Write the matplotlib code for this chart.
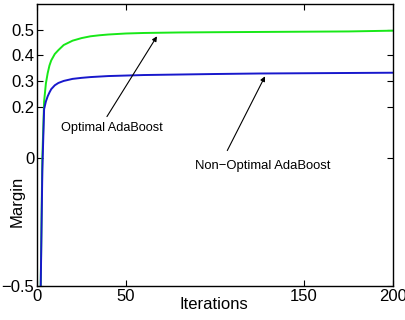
import matplotlib
matplotlib.use("Agg")
import matplotlib.pyplot as plt

plt.rcParams['font.family'] = ['Liberation Sans', 'DejaVu Sans']

iterations = [1, 2, 3, 4, 5, 6, 7, 8, 10, 12, 15, 20, 25, 30, 35, 40, 50, 60, 80, 100, 125, 150, 175, 200]
optimal = [-1.0, -0.55, 0.0, 0.22, 0.29, 0.33, 0.36, 0.38, 0.405, 0.42, 0.44, 0.457, 0.467, 0.474,
           0.478, 0.481, 0.485, 0.487, 0.489, 0.490, 0.491, 0.492, 0.493, 0.496]
non_optimal = [-1.0, -0.55, -0.05, 0.19, 0.22, 0.24, 0.255, 0.268, 0.283, 0.292, 0.30, 0.308, 0.312,
               0.315, 0.317, 0.319, 0.321, 0.323, 0.325, 0.327, 0.329, 0.330, 0.331, 0.332]

xticks = [0, 50, 150, 200]
yticks = [-0.5, 0, 0.2, 0.3, 0.4, 0.5]
ytick_labels = ['\u22120.5', '0', '0.2', '0.3', '0.4', '0.5']

fig = plt.figure(figsize=(4.06, 3.20), dpi=100)
ax = fig.add_axes([0.0911, 0.106, 0.968 - 0.0911, 0.9875 - 0.106])

ax.plot(iterations, optimal, color='#18e818', lw=1.4)
ax.plot(iterations, non_optimal, color='#1818cc', lw=1.4)

ax.set_xlim(0, 200)
ax.set_ylim(-0.5, 0.6)
ax.set_xticks(xticks)
ax.set_xticklabels([str(t) for t in xticks])
ax.set_yticks(yticks)
ax.set_yticklabels(ytick_labels)
ax.tick_params(direction='in', length=4, width=0.8, top=True, right=True, labelsize=12, pad=2)
for s in ax.spines.values():
    s.set_linewidth(1.0)

ax.set_xlabel('Iterations', fontsize=12)
ax.xaxis.set_label_coords(0.497, -0.04)
ax.set_ylabel('Margin', fontsize=12)
ax.yaxis.set_label_coords(-0.036, 0.30)

arrow = dict(arrowstyle='-|>', color='black', lw=0.8, mutation_scale=7, shrinkA=0, shrinkB=0)
ax.annotate('', xy=(67.4, 0.474), xytext=(39.3, 0.161), arrowprops=arrow)
ax.annotate('', xy=(128.1, 0.318), xytext=(106.9, 0.0285), arrowprops=arrow)
ax.text(42.3, 0.117, 'Optimal AdaBoost', fontsize=9.2, ha='center', va='center')
ax.text(126.6, -0.030, 'Non\u2212Optimal AdaBoost', fontsize=9.4, ha='center', va='center')

fig.savefig('out.png', dpi=100)
